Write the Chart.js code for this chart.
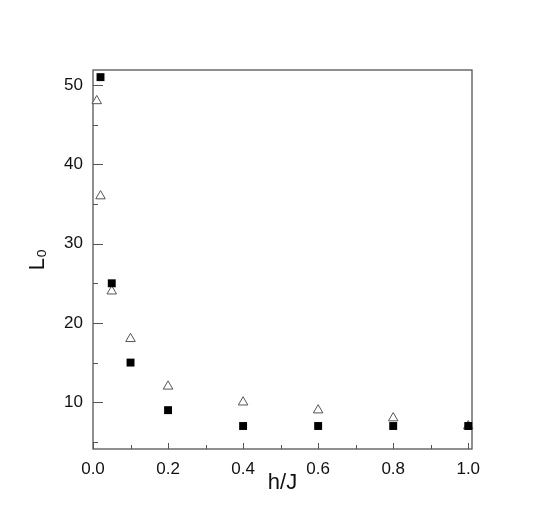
<!DOCTYPE html>
<html>
<head>
<meta charset="utf-8">
<script src="https://cdn.jsdelivr.net/npm/chart.js@4/dist/chart.umd.min.js"></script>
<style>
  html, body { margin: 0; padding: 0; background: #fff; }
  #wrap { width: 538px; height: 518px; }
</style>
</head>
<body>
<div id="wrap"><canvas id="c" width="538" height="518"></canvas></div>
<script>
// data
const squareH = [0.02, 0.05, 0.1, 0.2, 0.4, 0.6, 0.8, 1.0];
const squareL0 = [51, 25, 15, 9, 7, 7, 7, 7];
const triangleH = [0.01, 0.02, 0.05, 0.1, 0.2, 0.4, 0.6, 0.8, 1.0];
const triangleL0 = [48, 36, 24, 18, 12, 10, 9, 8, 7];

const xTicks = [0, 0.2, 0.4, 0.6, 0.8, 1.0];
const xMinorTicks = [0.1, 0.3, 0.5, 0.7, 0.9];
const yTicks = [10, 20, 30, 40, 50];
const yMinorTicks = [5, 15, 25, 35, 45];

const FONT = "'Liberation Sans', Arial, Helvetica, sans-serif";
const AXIS_COLOR = "#555";

function toPoints(xs, ys) {
    return xs.map((x, i) => ({x: x, y: ys[i]}));
}

// frame box + inward ticks, like the original plotting program
const frameTicks = {
    id: "frameTicks",
    beforeDatasetsDraw(chart) {
        const {ctx, chartArea: a, scales} = chart;
        const xs = scales.x, ys = scales.y;
        ctx.save();
        ctx.strokeStyle = AXIS_COLOR;
        ctx.lineWidth = 1.3;
        ctx.strokeRect(a.left, a.top, a.right - a.left, a.bottom - a.top);
        ctx.lineWidth = 1;
        ctx.beginPath();
        xTicks.forEach(v => {
            const px = Math.round(xs.getPixelForValue(v)) + 0.5;
            ctx.moveTo(px, a.bottom); ctx.lineTo(px, a.bottom - 6);
        });
        xMinorTicks.forEach(v => {
            const px = Math.round(xs.getPixelForValue(v)) + 0.5;
            ctx.moveTo(px, a.bottom); ctx.lineTo(px, a.bottom - 4);
        });
        yTicks.forEach(v => {
            const py = Math.round(ys.getPixelForValue(v)) + 0.5;
            ctx.moveTo(a.left, py); ctx.lineTo(a.left + 10, py);
        });
        yMinorTicks.forEach(v => {
            const py = Math.round(ys.getPixelForValue(v)) + 0.5;
            ctx.moveTo(a.left, py); ctx.lineTo(a.left + 5, py);
        });
        ctx.stroke();
        ctx.restore();
    }
};

new Chart(document.getElementById("c"), {
    type: "scatter",
    data: {
        datasets: [
            {
                label: "squares",
                data: toPoints(squareH, squareL0),
                pointStyle: "rect",
                pointRadius: 5.6,
                backgroundColor: "#000",
                borderColor: "#000",
                borderWidth: 0,
                clip: false
            },
            {
                label: "triangles",
                data: toPoints(triangleH, triangleL0),
                pointStyle: "triangle",
                pointRadius: 5.5,
                backgroundColor: "#fff",
                borderColor: "#555",
                borderWidth: 1,
                clip: false
            }
        ]
    },
    options: {
        responsive: false,
        animation: false,
        layout: {padding: {top: 70, right: 66, left: 0, bottom: 0}},
        plugins: {legend: {display: false}, tooltip: {enabled: false}},
        scales: {
            x: {
                type: "linear",
                min: 0,
                max: 1.01,
                grid: {display: false},
                border: {display: false},
                afterBuildTicks: s => { s.ticks = xTicks.map(v => ({value: v})); },
                afterFit: s => { s.height = 69; },
                ticks: {
                    padding: 2,
                    color: "#111",
                    font: {family: FONT, size: 17},
                    callback: v => v.toFixed(1)
                },
                title: {
                    display: true,
                    text: "h/J",
                    color: "#111",
                    font: {family: FONT, size: 22},
                    padding: {top: 0, bottom: 22}
                }
            },
            y: {
                type: "linear",
                min: 4.1,
                max: 51.9,
                grid: {display: false},
                border: {display: false},
                afterBuildTicks: s => { s.ticks = yTicks.map(v => ({value: v})); },
                afterFit: s => { s.width = 93; },
                ticks: {
                    padding: 2,
                    color: "#111",
                    font: {family: FONT, size: 17}
                },
                title: {
                    display: true,
                    text: "L₀",
                    color: "#111",
                    font: {family: FONT, size: 22},
                    padding: {top: 25, bottom: 0}
                }
            }
        }
    },
    plugins: [frameTicks]
});
</script>
</body>
</html>
